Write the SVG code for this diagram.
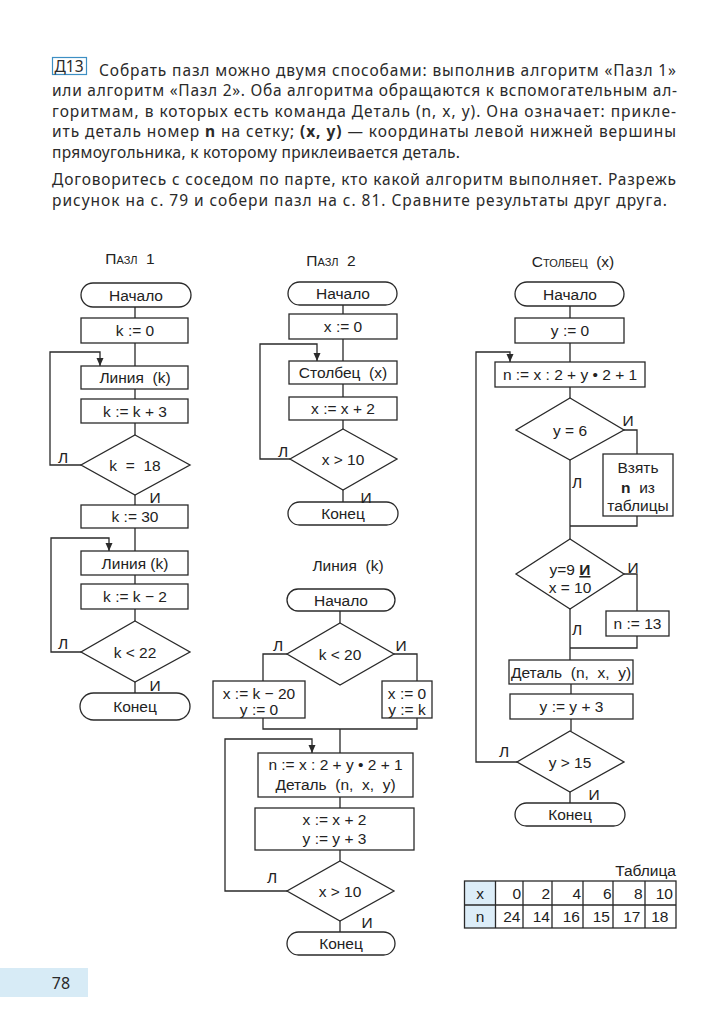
<svg xmlns="http://www.w3.org/2000/svg" width="715" height="1024" viewBox="0 0 715 1024">
<defs>
<style>
.b{fill:#fff;stroke:#2a2a2a;stroke-width:1.3}
.c{fill:none;stroke:#2a2a2a;stroke-width:1.3}
.t{font-family:"Liberation Sans",Arial,sans-serif;font-size:15.5px;fill:#222;text-anchor:middle;white-space:pre}
.l{font-family:"Liberation Sans",Arial,sans-serif;font-size:15.5px;fill:#222;text-anchor:middle}
.p{font-family:"Noto Sans","Open Sans",sans-serif;font-size:15.5px;fill:#2a2a2a}
.sc{font-variant:small-caps}
.tb{font-family:"Liberation Sans",Arial,sans-serif;font-size:15.5px;fill:#222;text-anchor:end}
</style>
<marker id="ar" markerWidth="8" markerHeight="8" refX="8" refY="4" orient="auto" markerUnits="userSpaceOnUse">
<path d="M0,0.5 L8,4 L0,7.5 z" fill="#2a2a2a"/>
</marker>
</defs>
<rect width="715" height="1024" fill="#fff"/>

<g id="task-text">
<rect x="52.5" y="57.5" width="34" height="17" fill="#fff" stroke="#3d8fc4" stroke-width="1.2"/>
<text class="p" x="54.5" y="72" font-size="16.5">Д13</text>
<text class="p" x="99" y="75.5" textLength="577" lengthAdjust="spacing">Собрать пазл можно двумя способами: выполнив алгоритм «<tspan class="sc">Пазл</tspan> 1»</text>
<text class="p" x="52" y="96" textLength="625" lengthAdjust="spacing">или алгоритм «<tspan class="sc">Пазл</tspan> 2». Оба алгоритма обращаются к вспомогательным ал-</text>
<text class="p" x="52" y="116.5" textLength="624" lengthAdjust="spacing">горитмам, в которых есть команда Деталь (n, x, y). Она означает: прикле-</text>
<text class="p" x="52" y="137" textLength="624" lengthAdjust="spacing">ить деталь номер <tspan font-weight="bold">n</tspan> на сетку; <tspan font-weight="bold">(x, y)</tspan> — координаты левой нижней вершины</text>
<text class="p" x="52" y="157.5" textLength="408" lengthAdjust="spacing">прямоугольника, к которому приклеивается деталь.</text>
<text class="p" x="52" y="185" textLength="624" lengthAdjust="spacing">Договоритесь с соседом по парте, кто какой алгоритм выполняет. Разрежь</text>
<text class="p" x="52" y="205.5" textLength="615" lengthAdjust="spacing">рисунок на с. 79 и собери пазл на с. 81. Сравните результаты друг друга.</text>
</g>

<!-- Пазл 1 -->
<g id="pazl1">
<text class="t" x="130" y="264" font-size="16"><tspan class="sc">Пазл</tspan>  1</text>
<g id="p1-start"><rect class="b" x="81" y="283" width="110" height="24" rx="12"/><text class="t" x="136" y="300.5">Начало</text></g>
<g id="p1-k0"><rect class="b" x="81" y="318" width="107" height="25"/><text class="t" x="135" y="336">k := 0</text></g>
<g id="p1-line1"><rect class="b" x="81" y="366" width="107" height="23"/><text class="t" x="135" y="383">Линия  (k)</text></g>
<g id="p1-inc"><rect class="b" x="81" y="399" width="107" height="24"/><text class="t" x="135" y="416.5">k := k + 3</text></g>
<g id="p1-d1"><polygon class="b" points="135,435 190,465 135,495 81,465"/><text class="t" x="135" y="470.5">k  =  18</text></g>
<g id="p1-k30"><rect class="b" x="81" y="505" width="107" height="23"/><text class="t" x="135" y="522">k := 30</text></g>
<g id="p1-line2"><rect class="b" x="81" y="551" width="107" height="24"/><text class="t" x="135" y="568.5">Линия (k)</text></g>
<g id="p1-dec"><rect class="b" x="81" y="584" width="107" height="25"/><text class="t" x="135" y="602">k := k − 2</text></g>
<g id="p1-d2"><polygon class="b" points="135,621 190,652 135,682 81,652"/><text class="t" x="135" y="657.5">k &lt; 22</text></g>
<g id="p1-end"><rect class="b" x="80" y="693" width="110" height="27" rx="13.5"/><text class="t" x="135" y="712">Конец</text></g>
</g>

<!-- Пазл 2 -->
<g id="pazl2">
<text class="t" x="331" y="266" font-size="16"><tspan class="sc">Пазл</tspan>  2</text>
<g id="p2-start"><rect class="b" x="288" y="282" width="109" height="23" rx="11.5"/><text class="t" x="343" y="299">Начало</text></g>
<g id="p2-x0"><rect class="b" x="289" y="314" width="108" height="25"/><text class="t" x="343" y="332">x := 0</text></g>
<g id="p2-col"><rect class="b" x="289" y="361" width="108" height="23"/><text class="t" x="343" y="378">Столбец  (x)</text></g>
<g id="p2-inc"><rect class="b" x="289" y="397" width="108" height="23"/><text class="t" x="343" y="414">x := x + 2</text></g>
<g id="p2-d"><polygon class="b" points="343,429 397,459 343,490 290,459"/><text class="t" x="343" y="464.5">x &gt; 10</text></g>
<g id="p2-end"><rect class="b" x="288" y="502" width="110" height="23" rx="11.5"/><text class="t" x="343" y="519">Конец</text></g>
</g>

<!-- Линия (k) -->
<g id="liniya">
<text class="t" x="348" y="571" font-size="16">Линия  (k)</text>
<g id="l-start"><rect class="b" x="287" y="589" width="108" height="22" rx="11"/><text class="t" x="341" y="605.5">Начало</text></g>
<g id="l-d1"><polygon class="b" points="340,623 394,654 340,685 287,654"/><text class="t" x="340" y="659.5">k &lt; 20</text></g>
<g id="l-left"><rect class="b" x="213" y="681" width="92" height="37"/><text class="t" x="259" y="698.5">x := k − 20</text><text class="t" x="259" y="714.5">y := 0</text></g>
<g id="l-right"><rect class="b" x="382" y="681" width="50" height="37"/><text class="t" x="407" y="698.5">x := 0</text><text class="t" x="407" y="714.5">y := k</text></g>
<g id="l-calc"><rect class="b" x="258" y="753" width="155" height="44"/><text class="t" x="335.5" y="770">n := x : 2 + y • 2 + 1</text><text class="t" x="335.5" y="790">Деталь  (n,  x,  y)</text></g>
<g id="l-inc"><rect class="b" x="255" y="808" width="159" height="42"/><text class="t" x="334.5" y="825">x := x + 2</text><text class="t" x="334.5" y="843.5">y := y + 3</text></g>
<g id="l-d2"><polygon class="b" points="340,861 394,891 340,921 287,891"/><text class="t" x="340" y="896.5">x &gt; 10</text></g>
<g id="l-end"><rect class="b" x="287" y="932" width="108" height="23" rx="11.5"/><text class="t" x="341" y="949">Конец</text></g>
</g>

<!-- Столбец (x) -->
<g id="stolbets">
<text class="t" x="573" y="267" font-size="16"><tspan class="sc">Столбец</tspan>  (x)</text>
<g id="s-start"><rect class="b" x="515" y="282" width="109" height="24" rx="12"/><text class="t" x="570" y="299.5">Начало</text></g>
<g id="s-y0"><rect class="b" x="515" y="318" width="109" height="25"/><text class="t" x="570" y="336">y := 0</text></g>
<g id="s-n"><rect class="b" x="495" y="362" width="150" height="25"/><text class="t" x="570" y="380">n := x : 2 + y • 2 + 1</text></g>
<g id="s-d1"><polygon class="b" points="570,398 624,430 570,460 516,430"/><text class="t" x="570" y="435.5">y = 6</text></g>
<g id="s-take"><rect class="b" x="603" y="454" width="70" height="62"/><text class="t" x="638" y="473">Взять</text><text class="t" x="638" y="492.5"><tspan font-weight="bold">n</tspan>  из</text><text class="t" x="638" y="511">таблицы</text></g>
<g id="s-d2"><polygon class="b" points="570,539 624,574 570,609 516,574"/><text class="t" x="570" y="575">y=9 <tspan font-weight="bold" text-decoration="underline">И</tspan></text><text class="t" x="570" y="592.5">x = 10</text></g>
<g id="s-n13"><rect class="b" x="606" y="611" width="63" height="25"/><text class="t" x="637.5" y="629">n := 13</text></g>
<g id="s-det"><rect class="b" x="509" y="660" width="124" height="24"/><text class="t" x="571" y="677.5">Деталь  (n,  x,  y)</text></g>
<g id="s-inc"><rect class="b" x="510" y="694" width="123" height="25"/><text class="t" x="571.5" y="712">y := y + 3</text></g>
<g id="s-d3"><polygon class="b" points="570,731 624,762 570,792 517,762"/><text class="t" x="570" y="767.5">y &gt; 15</text></g>
<g id="s-end"><rect class="b" x="515" y="803" width="110" height="23" rx="11.5"/><text class="t" x="570" y="820">Конец</text></g>
</g>

<g id="connectors">
<path class="c" d="M135,307V318M135,343V366M135,389V399M135,423V435M135,495V505M135,528V551M135,575V584M135,609V621M135,682V693"/>
<path class="c" d="M81,465H50V352H100V366" marker-end="url(#ar)"/>
<path class="c" d="M81,652H51V538H109V551" marker-end="url(#ar)"/>
<path class="c" d="M343,305V314M343,339V361M343,384V397M343,420V429M343,490V502"/>
<path class="c" d="M290,459H260V344H317V361" marker-end="url(#ar)"/>
<path class="c" d="M340,611V623M287,654H263V681M394,654H417V681M263,718V729H417V718M340,729V753M340,797V808M340,850V861M340,921V932"/>
<path class="c" d="M287,891H225V739H312V753" marker-end="url(#ar)"/>
<path class="c" d="M570,306V318M570,343V362M570,387V398M624,430H637V454M637,516V526H570M570,460V539M624,574H637V611M637,636V648H570M570,609V660M571,684V694M571,719V731M570,792V803"/>
<path class="c" d="M517,762H476V352H510V362" marker-end="url(#ar)"/>
</g>

<g id="branch-labels">
<text class="l" x="63" y="463">Л</text>
<text class="l" x="155" y="503">И</text>
<text class="l" x="63" y="649">Л</text>
<text class="l" x="155" y="691">И</text>
<text class="l" x="283" y="457">Л</text>
<text class="l" x="366" y="503">И</text>
<text class="l" x="278" y="651">Л</text>
<text class="l" x="401" y="651">И</text>
<text class="l" x="272" y="883">Л</text>
<text class="l" x="367" y="928">И</text>
<text class="l" x="628" y="426">И</text>
<text class="l" x="577" y="488">Л</text>
<text class="l" x="633" y="573">И</text>
<text class="l" x="577" y="635">Л</text>
<text class="l" x="504" y="757">Л</text>
<text class="l" x="594" y="800">И</text>
</g>

<g id="table">
<text class="tb" x="676" y="876">Таблица</text>
<rect x="464.5" y="881" width="31" height="47" fill="#dcedf8"/>
<rect x="464.5" y="881" width="211.5" height="47" fill="none" stroke="#2a2a2a" stroke-width="1.3"/>
<path class="c" d="M464.5,905H676M495.5,881V928M523,881V928M552,881V928M583,881V928M613,881V928M645,881V928"/>
<text class="t" x="480" y="899">x</text>
<text class="t" x="480" y="922">n</text>
<text class="tb" x="521" y="899">0</text>
<text class="tb" x="550" y="899">2</text>
<text class="tb" x="581" y="899">4</text>
<text class="tb" x="611.5" y="899">6</text>
<text class="tb" x="642.5" y="899">8</text>
<text class="tb" x="673" y="899">10</text>
<text class="tb" x="520.5" y="922">24</text>
<text class="tb" x="550" y="922">14</text>
<text class="tb" x="580" y="922">16</text>
<text class="tb" x="610" y="922">15</text>
<text class="tb" x="640.5" y="922">17</text>
<text class="tb" x="668.5" y="922">18</text>
</g>

<g id="page-number">
<rect x="0" y="968" width="88" height="29" fill="#d7ebf6"/>
<text x="61" y="988.5" font-family="Noto Sans, Open Sans, sans-serif" font-size="16" fill="#2a2a2a" text-anchor="middle">78</text>
</g>
</svg>
